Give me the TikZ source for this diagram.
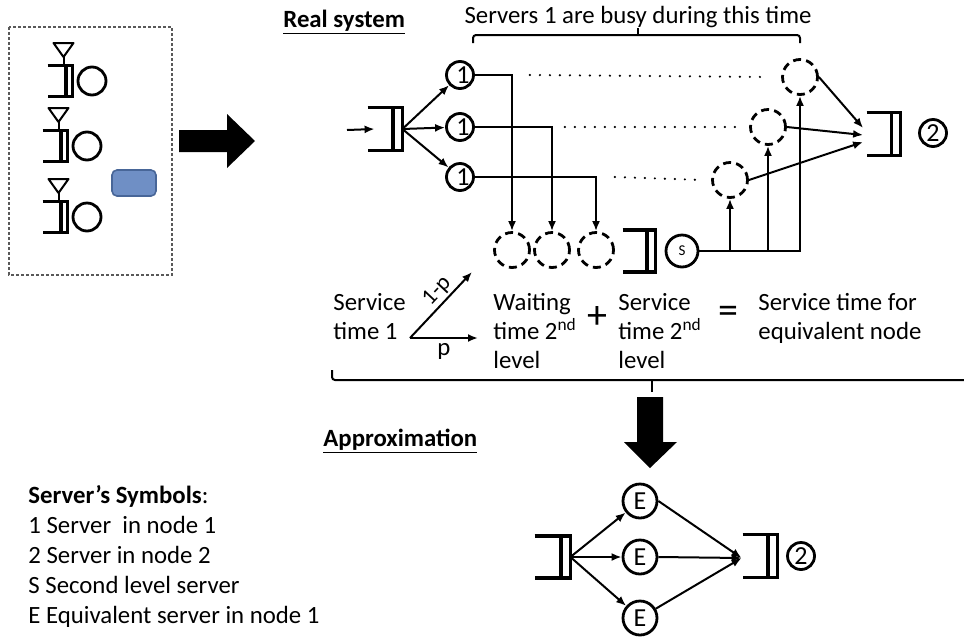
\documentclass[tikz,border=0pt]{standalone}
\usepackage{fontspec}
\setmainfont{Carlito}
\usetikzlibrary{arrows.meta, positioning, calc}

% queue symbol: name, centre, width, height
\newcommand{\queuesym}[4]{%
  \node[queuebox, minimum width=#3, minimum height=#4] (#1) at (#2) {};
  \draw[queueline] (#1.north west) -- (#1.north east) -- (#1.south east) -- (#1.south west);
  \draw[queueline] ([xshift={-0.27*#3}]#1.north east) -- ([xshift={-0.27*#3}]#1.south east);
}

\begin{document}
\begin{tikzpicture}[
        x=0.5pt, y=-0.5pt,
        every node/.style={font=\fontsize{12.4}{14.5}\selectfont},
        conn/.style={line width=1pt, -{Latex[length=5pt, width=4pt]}},
        server/.style={circle, draw, line width=1.4pt, minimum size=13.5pt, inner sep=0pt, font=\fontsize{13}{13}\selectfont},
        ghost/.style={server, dash pattern=on 4pt off 2.6pt, minimum size=17.5pt},
        dotline/.style={line width=1.2pt, line cap=round, dash pattern=on 0pt off 5pt},
        queuebox/.style={rectangle, inner sep=0pt, draw=none},
        queueline/.style={line width=1.8pt},
        brace/.style={line width=1pt, rounded corners=1.5pt},
        title/.style={font=\fontsize{12.4}{14.5}\selectfont\bfseries, anchor=base west, inner sep=0pt},
        txt/.style={anchor=base west, align=left, inner sep=0pt},
        sign/.style={font=\fontsize{20}{20}\selectfont, inner sep=0pt}
    ]
    \useasboundingbox (0,0) rectangle (964,638);

    % Node box on the left
    \draw[line width=0.6pt, dash pattern=on 1.5pt off 1pt, gray!70!black] (9,27) rectangle (172,275);
    \foreach \x/\y [count=\i] in {60/81, 55/146, 55/217} {
        \queuesym{lq\i}{\x,\y}{12pt}{15pt}
        \node[server, minimum size=14pt] (ls\i) at (\x+32,\y) {};
        \draw[line width=1pt, line join=round] (\x-6.5,\y-38) -- (\x+13.5,\y-38) -- (\x+3.5,\y-24) -- cycle;
        \draw[line width=1pt] (\x+3.5,\y-24) -- (\x+3.5,\y-15);
    }
    \draw[fill={rgb,255:red,111;green,143;blue,197}, draw={rgb,255:red,72;green,102;blue,152}, line width=0.8pt, rounded corners=2.5pt] (112,170) rectangle (156,196);

    % Block arrow to the right
    \fill (179,130) -- (227,130) -- (227,114) -- (255,141) -- (227,168) -- (227,152) -- (179,152) -- cycle;

    % Real system
    \node[title] (real) at (283,27) {\underline{Real system}};
    \node[anchor=base] (busy) at (638,23) {Servers 1 are busy during this time};
    \draw[brace] (473,43) -- (473,35) -- (800,35) -- (800,43);
    \draw[brace] (638,35) -- (638,28);

    \coordinate (in) at (347,130);
    \queuesym{q1}{385,129}{17pt}{21pt}
    \draw[conn] (in) -- ([xshift=3.5pt]q1.west);

    \foreach \y [count=\i] in {75,127,177}
        \node[server] (s\i) at (460,\y) {\hspace*{3pt}1};
    \foreach \x [count=\i] in {512,552,596}
        \node[ghost] (w\i) at (\x,250) {};
    \foreach \i in {1,2,3} {
        \draw[conn] (q1.east) -- (s\i);
        \draw[conn] (s\i.east) -| (w\i.north);
    }

    % Second level queue and server
    \queuesym{qs}{639,251}{16pt}{20.5pt}
    \node[server, minimum size=16pt, font=\fontsize{7.5}{7.5}\selectfont] (sv) at (682,251) {S};

    \node[ghost] (r1) at (800,77) {};
    \node[ghost] (r2) at (768,127) {};
    \node[ghost] (r3) at (730,180) {};
    \foreach \i in {1,2,3}
        \draw[conn] (sv.east) -| (r\i.south);

    \draw[dotline] ([xshift=27.5pt]s1.east) -- ([xshift=-6.5pt]r1.west);
    \draw[dotline] ([xshift=45pt]s2.east) -- ([xshift=-3.5pt]r2.west);
    \draw[dotline] ([xshift=70pt]s3.east) -- ([xshift=-3.5pt]r3.west);

    % Node 2
    \queuesym{q2}{883.5,134}{16.5pt}{21pt}
    \node[server] (n2) at (933,133) {2};
    \draw[conn] (r1.east) -- ([xshift=-1.75pt, yshift=3pt]q2.west);
    \draw[conn] (r2.east) -- ([xshift=-1.75pt, yshift=-0.5pt]q2.west);
    \draw[conn] (r3.east) -- ([xshift=-1.75pt, yshift=-4pt]q2.west);

    % Service time relation
    \node[txt] (svc1) at (333,339) {Service\\time 1};
    \coordinate (fork) at (410,338);
    \coordinate (up) at (472,272);
    \coordinate (side) at (478,338);
    \draw[conn] (fork) -- (up) node[pos=0.58, sloped, above, inner sep=1pt, font=\fontsize{11.5}{11.5}\selectfont] {1-p};
    \draw[conn] (fork) -- (side) node[midway, below, inner sep=2pt] {p};
    \node[txt] (wait) at (493,368) {Waiting\\time 2\textsuperscript{nd}\\level};
    \node[sign] (plus) at (597,317) {+};
    \node[txt] (svc2) at (618,368) {Service\\time 2\textsuperscript{nd}\\level};
    \node[sign] (eq) at (728,315) {=};
    \node[txt] (equiv) at (758,339) {Service time for\\equivalent node};

    \draw[brace] (332,370) -- (332,380) -- (966,380);
    \draw[brace] (652,380) -- (652,392);

    % Block arrow down
    \fill (637,397) -- (663,397) -- (663,442) -- (677,442) -- (650,468) -- (624,442) -- (637,442) -- cycle;

    % Approximation
    \node[title] (approx) at (323,446) {\underline{Approximation}};
    \queuesym{qa}{552.5,557}{17.5pt}{20.5pt}
    \foreach \y [count=\i] in {501,557,618}
        \node[server, minimum size=17pt] (e\i) at (640,\y) {E};
    \queuesym{qb}{760,556}{17pt}{21pt}
    \node[server] (n2b) at (801,556) {2};
    \foreach \i in {1,2,3}
        \draw[conn] (qa.east) -- (e\i);
    \draw[conn] (e1.east) -- ([xshift=-0.5pt, yshift=-1pt]qb.west);
    \draw[conn] (e2.east) -- ([xshift=-0.5pt, yshift=-1pt]qb.west);
    \draw[conn] (e3) -- ([xshift=-0.5pt, yshift=-1pt]qb.west);

    % Legend
    \node[txt, font=\fontsize{12.4}{15}\selectfont] (legend) at (28,623) {\textbf{Server's Symbols}:\\1 Server~ in node 1\\2 Server in node 2\\S Second level server\\E Equivalent server in node 1};

\end{tikzpicture}
\end{document}
